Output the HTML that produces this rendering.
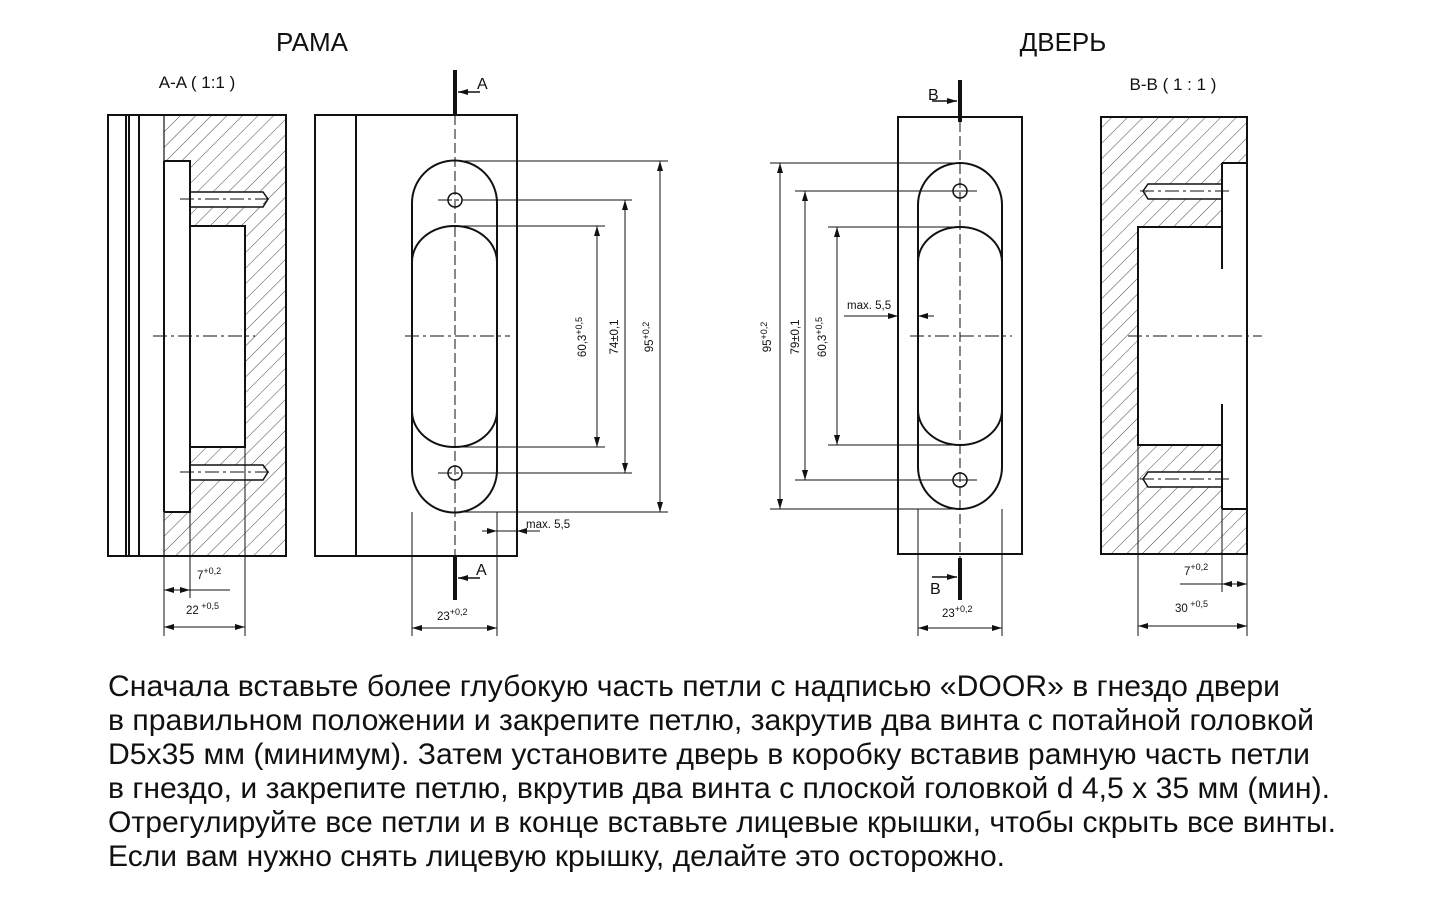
<!DOCTYPE html>
<html><head><meta charset="utf-8"><style>
html,body{margin:0;padding:0;background:#fff;}
svg{display:block;}
text{font-family:"Liberation Sans",sans-serif;fill:#111;}
</style></head><body>
<svg width="1440" height="900" viewBox="0 0 1440 900" xmlns="http://www.w3.org/2000/svg">
<defs>
<pattern id="h" patternUnits="userSpaceOnUse" width="11" height="11" patternTransform="rotate(45)">
<line x1="0" y1="0" x2="0" y2="11" stroke="#333" stroke-width="0.9"/>
</pattern>
<marker id="ar" viewBox="0 0 10 6" refX="10" refY="3" markerWidth="10" markerHeight="6" orient="auto-start-reverse" markerUnits="userSpaceOnUse">
<path d="M0,0 L10,3 L0,6 z" fill="#111"/>
</marker>
</defs>

<text x="312" y="51" font-size="26" text-anchor="middle">РАМА</text>
<text x="1063" y="51" font-size="26" text-anchor="middle">ДВЕРЬ</text>
<text x="197" y="88" font-size="17" text-anchor="middle" font-family="DejaVu Sans">A-A ( 1:1 )</text>
<text x="1173" y="90" font-size="17" text-anchor="middle" font-family="DejaVu Sans">B-B ( 1 : 1 )</text>

<g stroke="#111" fill="none" stroke-width="2">
<rect x="164" y="115" width="122" height="441" fill="url(#h)" stroke="none"/>
<rect x="164" y="161" width="26" height="351" fill="#fff" stroke="none"/>
<rect x="190" y="226" width="55" height="221" fill="#fff" stroke="none"/>
<rect x="190" y="192" width="73" height="15" fill="#fff" stroke="none"/>
<rect x="190" y="465" width="73" height="15" fill="#fff" stroke="none"/>
<rect x="108" y="115" width="178" height="441"/>
<line x1="126" y1="115" x2="126" y2="556"/>
<line x1="129" y1="115" x2="129" y2="556"/>
<line x1="139" y1="115" x2="139" y2="556"/>
<line x1="164" y1="115" x2="164" y2="556" stroke-width="1.2"/>
<polyline points="164,161 190,161 190,512 164,512"/>
<line x1="164" y1="161" x2="164" y2="512"/>
<polyline points="190,226 245,226 245,447 190,447"/>
<line x1="190" y1="161" x2="190" y2="270"/>
<line x1="190" y1="404" x2="190" y2="512"/>
<polyline points="190,192 263,192 268,199 263,207 190,207" stroke-width="1.5"/>
<polyline points="190,465 263,465 268,472 263,480 190,480" stroke-width="1.5"/>
<g stroke-width="1" stroke-dasharray="14,4,3,4">
<line x1="153" y1="336" x2="255" y2="336"/>
<line x1="180" y1="199" x2="272" y2="199"/>
<line x1="180" y1="472" x2="272" y2="472"/>
</g>
<g stroke-width="1">
<line x1="164" y1="556" x2="164" y2="636"/>
<line x1="190" y1="512" x2="190" y2="598"/>
<line x1="245" y1="447" x2="245" y2="636"/>
<line x1="164" y1="590" x2="190" y2="590" marker-start="url(#ar)" marker-end="url(#ar)"/>
<line x1="190" y1="590" x2="230" y2="590"/>
<line x1="164" y1="627" x2="245" y2="627" marker-start="url(#ar)" marker-end="url(#ar)"/>
</g>

<rect x="315" y="115" width="202" height="441"/>
<line x1="356" y1="115" x2="356" y2="556"/>
<path d="M412,203 A42.5,42.5 0 0 1 497,203 L497,470 A42.5,42.5 0 0 1 412,470 Z"/>
<path d="M412,262 A42.5,36 0 0 1 497,262 L497,411 A42.5,36 0 0 1 412,411 Z"/>
<circle cx="455" cy="200" r="7" stroke-width="1.5"/>
<circle cx="455" cy="473" r="7" stroke-width="1.5"/>
<line x1="455" y1="70" x2="455" y2="115" stroke-width="4"/>
<line x1="455" y1="556" x2="455" y2="600" stroke-width="4"/>
<line x1="480" y1="92" x2="458" y2="92" stroke-width="1.5" marker-end="url(#ar)"/>
<line x1="480" y1="578" x2="458" y2="578" stroke-width="1.5" marker-end="url(#ar)"/>
<line x1="455" y1="115" x2="455" y2="556" stroke-width="1" stroke-dasharray="10,4"/>
<g stroke-width="1" stroke-dasharray="14,4,3,4">
<line x1="405" y1="336" x2="510" y2="336"/>
<line x1="438" y1="200" x2="472" y2="200"/>
<line x1="438" y1="473" x2="472" y2="473"/>
</g>
<g stroke-width="1">
<line x1="455" y1="161" x2="668" y2="161"/>
<line x1="462" y1="200" x2="632" y2="200"/>
<line x1="455" y1="226" x2="605" y2="226"/>
<line x1="455" y1="447" x2="605" y2="447"/>
<line x1="462" y1="473" x2="632" y2="473"/>
<line x1="455" y1="512" x2="668" y2="512"/>
<line x1="597" y1="226" x2="597" y2="447" marker-start="url(#ar)" marker-end="url(#ar)"/>
<line x1="625" y1="200" x2="625" y2="473" marker-start="url(#ar)" marker-end="url(#ar)"/>
<line x1="660" y1="161" x2="660" y2="512" marker-start="url(#ar)" marker-end="url(#ar)"/>
<line x1="482" y1="531" x2="497" y2="531" marker-end="url(#ar)"/>
<line x1="540" y1="531" x2="517" y2="531" marker-end="url(#ar)"/>
<line x1="497" y1="531" x2="517" y2="531"/>
<line x1="412" y1="512" x2="412" y2="636"/>
<line x1="497" y1="512" x2="497" y2="636"/>
<line x1="412" y1="628" x2="497" y2="628" marker-start="url(#ar)" marker-end="url(#ar)"/>
</g>

<rect x="898" y="117" width="124" height="437"/>
<path d="M918,205 A42,42 0 0 1 1002,205 L1002,467 A42,42 0 0 1 918,467 Z"/>
<path d="M918,262 A42,35 0 0 1 1002,262 L1002,410 A42,35 0 0 1 918,410 Z"/>
<circle cx="960" cy="191" r="7" stroke-width="1.5"/>
<circle cx="960" cy="480" r="7" stroke-width="1.5"/>
<line x1="960" y1="80" x2="960" y2="122" stroke-width="4"/>
<line x1="960" y1="558" x2="960" y2="600" stroke-width="4"/>
<line x1="932" y1="101" x2="957" y2="101" stroke-width="1.5" marker-end="url(#ar)"/>
<line x1="932" y1="577" x2="957" y2="577" stroke-width="1.5" marker-end="url(#ar)"/>
<line x1="960" y1="122" x2="960" y2="558" stroke-width="1" stroke-dasharray="10,4"/>
<line x1="910" y1="336" x2="1012" y2="336" stroke-width="1" stroke-dasharray="14,4,3,4"/>
<g stroke-width="1">
<line x1="770" y1="163" x2="960" y2="163"/>
<line x1="795" y1="191" x2="977" y2="191"/>
<line x1="828" y1="227" x2="960" y2="227"/>
<line x1="828" y1="445" x2="960" y2="445"/>
<line x1="795" y1="480" x2="977" y2="480"/>
<line x1="770" y1="509" x2="960" y2="509"/>
<line x1="780" y1="163" x2="780" y2="509" marker-start="url(#ar)" marker-end="url(#ar)"/>
<line x1="805" y1="191" x2="805" y2="480" marker-start="url(#ar)" marker-end="url(#ar)"/>
<line x1="837" y1="227" x2="837" y2="445" marker-start="url(#ar)" marker-end="url(#ar)"/>
<line x1="844" y1="316" x2="898" y2="316" marker-end="url(#ar)"/>
<line x1="934" y1="316" x2="918" y2="316" marker-end="url(#ar)"/>
<line x1="918" y1="509" x2="918" y2="636"/>
<line x1="1002" y1="509" x2="1002" y2="636"/>
<line x1="918" y1="628" x2="1002" y2="628" marker-start="url(#ar)" marker-end="url(#ar)"/>
</g>

<rect x="1101" y="117" width="146" height="437" fill="url(#h)" stroke="none"/>
<rect x="1222" y="163" width="25" height="346" fill="#fff" stroke="none"/>
<rect x="1138" y="227" width="84" height="218" fill="#fff" stroke="none"/>
<rect x="1148" y="184" width="74" height="15" fill="#fff" stroke="none"/>
<rect x="1148" y="472" width="74" height="15" fill="#fff" stroke="none"/>
<rect x="1101" y="117" width="146" height="437"/>
<polyline points="1222,163 1247,163 1247,509 1222,509"/>
<polyline points="1222,227 1138,227 1138,445 1222,445"/>
<line x1="1222" y1="163" x2="1222" y2="269"/>
<line x1="1222" y1="404" x2="1222" y2="509"/>
<polyline points="1222,184 1148,184 1143,191 1148,199 1222,199" stroke-width="1.5"/>
<polyline points="1222,472 1148,472 1143,479 1148,487 1222,487" stroke-width="1.5"/>
<g stroke-width="1" stroke-dasharray="14,4,3,4">
<line x1="1128" y1="336" x2="1262" y2="336"/>
<line x1="1140" y1="191" x2="1232" y2="191"/>
<line x1="1140" y1="479" x2="1232" y2="479"/>
</g>
<g stroke-width="1">
<line x1="1138" y1="445" x2="1138" y2="636"/>
<line x1="1222" y1="509" x2="1222" y2="592"/>
<line x1="1247" y1="554" x2="1247" y2="636"/>
<line x1="1180" y1="584" x2="1222" y2="584"/>
<line x1="1222" y1="584" x2="1247" y2="584" marker-start="url(#ar)" marker-end="url(#ar)"/>
<line x1="1138" y1="626" x2="1247" y2="626" marker-start="url(#ar)" marker-end="url(#ar)"/>
</g>
</g>

<g font-family="DejaVu Sans">
<text x="477" y="89" font-size="16">A</text>
<text x="476" y="575" font-size="16">A</text>
<text x="928" y="100" font-size="16">B</text>
<text x="930" y="594" font-size="16">B</text>
</g>
<g font-size="11.5">
<text x="197" y="579">7<tspan dy="-5" font-size="9">+0,2</tspan></text>
<text x="186" y="614">22<tspan dy="-5" font-size="9"> +0,5</tspan></text>
<text x="437" y="620">23<tspan dy="-5" font-size="9">+0,2</tspan></text>
<text x="526" y="528">max. 5,5</text>
<text transform="translate(586,337) rotate(-90)" text-anchor="middle">60,3<tspan dy="-4" font-size="9">+0,5</tspan></text>
<text transform="translate(618,337) rotate(-90)" text-anchor="middle">74±0,1</text>
<text transform="translate(653,337) rotate(-90)" text-anchor="middle">95<tspan dy="-4" font-size="9">+0,2</tspan></text>
<text transform="translate(771,337) rotate(-90)" text-anchor="middle">95<tspan dy="-4" font-size="9">+0,2</tspan></text>
<text transform="translate(799,337) rotate(-90)" text-anchor="middle">79±0,1</text>
<text transform="translate(826,337) rotate(-90)" text-anchor="middle">60,3<tspan dy="-4" font-size="9">+0,5</tspan></text>
<text x="847" y="309">max. 5,5</text>
<text x="942" y="617">23<tspan dy="-5" font-size="9">+0,2</tspan></text>
<text x="1184" y="575">7<tspan dy="-5" font-size="9">+0,2</tspan></text>
<text x="1175" y="612">30<tspan dy="-5" font-size="9"> +0,5</tspan></text>
</g>

<g font-size="29.5" fill="#222">
<text x="108" y="696" textLength="1172" lengthAdjust="spacingAndGlyphs">Сначала вставьте более глубокую часть петли с надписью «DOOR» в гнездо двери</text>
<text x="108" y="730" textLength="1206" lengthAdjust="spacingAndGlyphs">в правильном положении и закрепите петлю, закрутив два винта с потайной головкой</text>
<text x="108" y="764" textLength="1202" lengthAdjust="spacingAndGlyphs">D5x35 мм (минимум). Затем установите дверь в коробку вставив рамную часть петли</text>
<text x="108" y="798" textLength="1222" lengthAdjust="spacingAndGlyphs">в гнездо, и закрепите петлю, вкрутив два винта с плоской головкой d 4,5 x 35 мм (мин).</text>
<text x="108" y="832" textLength="1228" lengthAdjust="spacingAndGlyphs">Отрегулируйте все петли и в конце вставьте лицевые крышки, чтобы скрыть все винты.</text>
<text x="108" y="866" textLength="897" lengthAdjust="spacingAndGlyphs">Если вам нужно снять лицевую крышку, делайте это осторожно.</text>
</g>
</svg>
</body></html>
